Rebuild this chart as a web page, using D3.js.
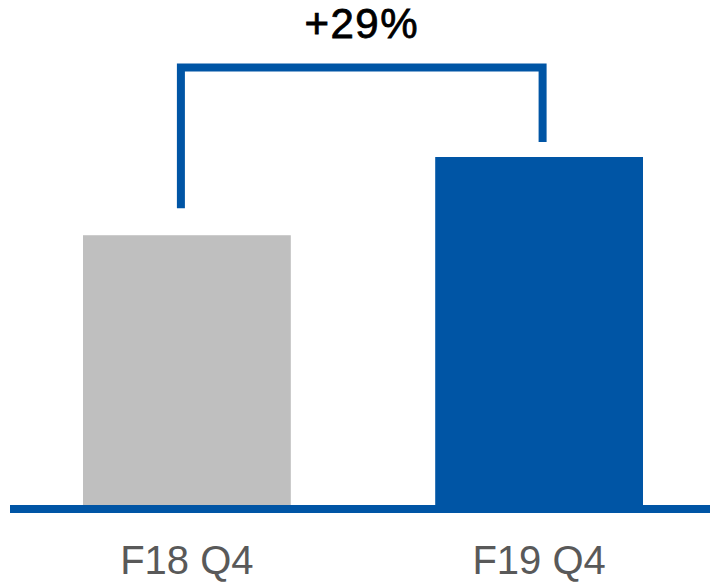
<!DOCTYPE html>
<html>
<head>
<meta charset="utf-8">
<script src="https://cdn.jsdelivr.net/npm/d3@7"></script>
<style>
  body { margin: 0; background: #fff; }
  svg { display: block; }
</style>
</head>
<body>
<svg id="chart"></svg>
<script>
let periods = ["F18 Q4", "F19 Q4"];
let values = [100, 129];
let barColors = ["#bfbfbf", "#0055a5"];
let growthLabel = "+29%";

let width = 710, height = 583;
let baseY = 505;

let svg = d3.select("#chart")
    .attr("width", width)
    .attr("height", height);

let x = d3.scaleBand()
    .domain(periods)
    .range([83, 643])
    .paddingInner(0.41)
    .paddingOuter(0);

let y = d3.scaleLinear()
    .domain([0, d3.max(values)])
    .range([baseY, 157]);

// bars
svg.selectAll(".bar")
    .data(periods)
    .enter().append("rect")
    .attr("class", "bar")
    .attr("x", d => x(d))
    .attr("y", (d, i) => y(values[i]))
    .attr("width", x.bandwidth())
    .attr("height", (d, i) => baseY - y(values[i]))
    .style("fill", (d, i) => barColors[i]);

// baseline
svg.append("line")
    .attr("x1", 10)
    .attr("x2", width)
    .attr("y1", baseY + 4)
    .attr("y2", baseY + 4)
    .style("stroke", "#0055a5")
    .style("stroke-width", 8);

// category labels
svg.selectAll(".label")
    .data(periods)
    .enter().append("text")
    .attr("class", "label")
    .attr("x", d => x(d) + x.bandwidth() / 2)
    .attr("y", 574)
    .attr("text-anchor", "middle")
    .style("font-family", "'Liberation Sans', Arial, sans-serif")
    .style("font-size", "40px")
    .style("fill", "#595959")
    .text(d => d);

// growth bracket
let leftX = x(periods[0]) + x.bandwidth() / 2 - 6;
let rightX = x(periods[1]) + x.bandwidth() / 2 + 3.5;
let topY = 67.5;
svg.append("path")
    .attr("d", "M" + leftX + "," + (y(values[0]) - 27) +
        "V" + topY + "H" + rightX + "V" + (y(values[1]) - 15))
    .style("fill", "none")
    .style("stroke", "#0055a5")
    .style("stroke-width", 8)
    .style("stroke-linejoin", "miter");

svg.append("text")
    .attr("x", (leftX + rightX) / 2)
    .attr("y", 38)
    .attr("text-anchor", "middle")
    .style("font-family", "'Liberation Sans', Arial, sans-serif")
    .style("font-size", "42px")
    .style("letter-spacing", "1.5px")
    .style("stroke", "#000")
    .style("stroke-width", 0.8)
    .style("fill", "#000")
    .text(growthLabel);
</script>
</body>
</html>
